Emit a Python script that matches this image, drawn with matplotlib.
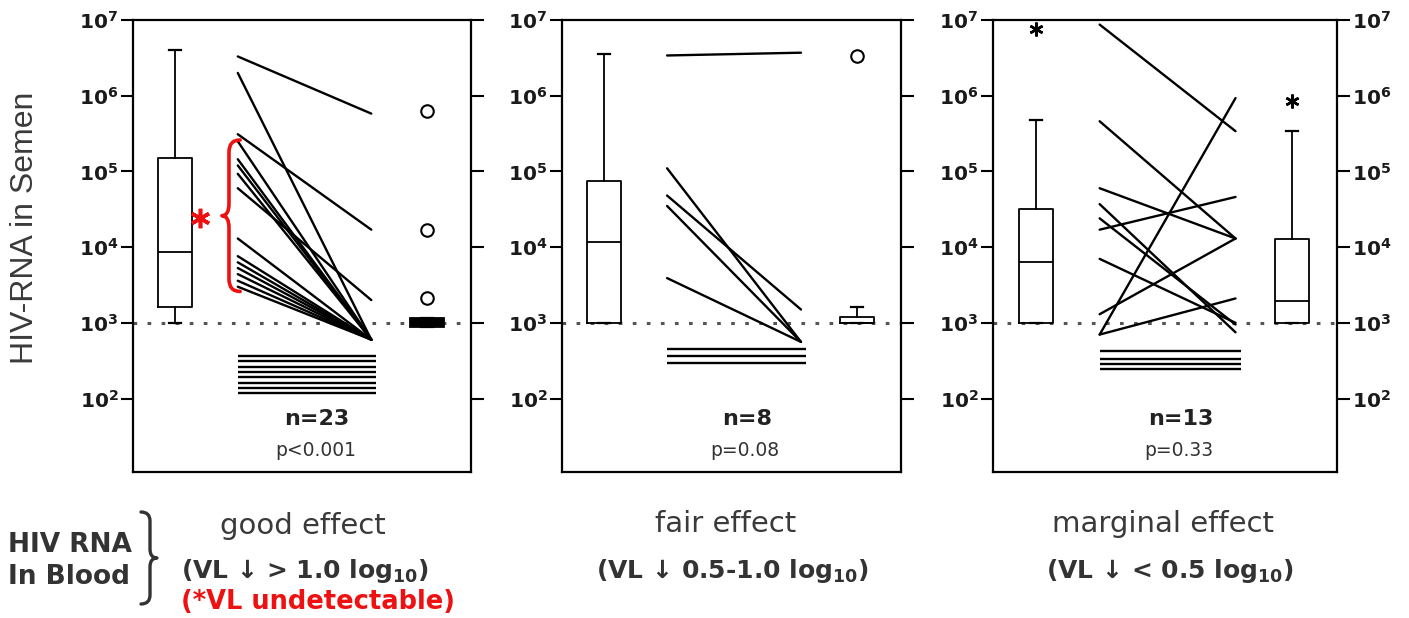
import numpy as np
import matplotlib
matplotlib.use("Agg")
import matplotlib.pyplot as plt
from matplotlib.path import Path
from matplotlib.patches import PathPatch
from matplotlib.ticker import FixedLocator, FuncFormatter, NullLocator

plt.rcParams['font.family'] = ['DejaVu Sans']
plt.rcParams['mathtext.fontset'] = 'dejavusans'

# ---- data: semen HIV-RNA (copies/mL), paired before -> after, per blood response group ----
good_before = [3.3e6, 2.0e6, 3.1e5, 2.5e5, 1.45e5, 1.2e5, 9.3e4, 6.0e4,
               1.3e4, 7.6e3, 6.3e3, 5.3e3, 4.4e3, 3.6e3, 3.0e3]
good_after = [5.8e5, 600, 1.7e4, 600, 600, 600, 600, 2.0e3,
              600, 600, 600, 600, 600, 600, 600]
good_undetectable = [365, 310, 265, 225, 190, 160, 138, 117]

fair_before = [3.4e6, 1.1e5, 4.8e4, 3.5e4, 3.9e3]
fair_after = [3.7e6, 560, 1.5e3, 560, 560]
fair_undetectable = [455, 365, 295]

marginal_before = [8.7e6, 4.6e5, 6.0e4, 3.7e4, 2.4e4, 1.7e4, 7.0e3, 1.3e3, 700, 700]
marginal_after = [3.4e5, 1.3e4, 1.3e4, 750, 950, 4.6e4, 1.0e3, 1.3e4, 9.3e5, 2.1e3]
marginal_undetectable = [425, 335, 285, 245]

# box summaries (whislo, q1, median, q3, whishi, outliers)
good_box_before = dict(whislo=1e3, q1=1.6e3, med=8.7e3, q3=1.5e5, whishi=4.0e6, fliers=[])
good_box_after = dict(whislo=870, q1=870, med=1e3, q3=1.15e3, whishi=1.15e3, fliers=[6.3e5, 1.7e4, 2.1e3])
fair_box_before = dict(whislo=1e3, q1=1e3, med=1.17e4, q3=7.5e4, whishi=3.6e6, fliers=[])
fair_box_after = dict(whislo=1e3, q1=1e3, med=1e3, q3=1.2e3, whishi=1.6e3, fliers=[3.3e6])
marginal_box_before = dict(whislo=1e3, q1=1e3, med=6.3e3, q3=3.2e4, whishi=4.8e5, fliers=[7.5e6])
marginal_box_after = dict(whislo=1e3, q1=1e3, med=1.95e3, q3=1.3e4, whishi=3.4e5, fliers=[8.5e5])

detection_limit = 1e3
group_names = ['good effect', 'fair effect', 'marginal effect']
group_criteria = ['(VL \u2193 > 1.0 log$_{\\mathbf{10}}$)',
                  '(VL \u2193 0.5-1.0 log$_{\\mathbf{10}}$)',
                  '(VL \u2193 < 0.5 log$_{\\mathbf{10}}$)']
n_labels = ['n=23', 'n=8', 'n=13']
p_labels = ['p<0.001', 'p=0.08', 'p=0.33']
decades = [2, 3, 4, 5, 6, 7]

W, H = 1409, 618
fig = plt.figure(figsize=(W / 100, H / 100), dpi=100)


def px(x, y):
    return x / W, 1 - y / H


panel_rects = [(133, 471), (562, 901), (993, 1337)]
top_px, bot_px = 20, 472

X_BOX, X_PRE, X_POST, X_POST_BOX = 1.25, 3.1, 7.05, 8.7


def add_box(ax, stats, pos, filled=False, flier_marker='o'):
    st = dict(stats)
    if flier_marker == 'o':
        fp = dict(marker='o', markerfacecolor='none', markeredgecolor='k',
                  markersize=9, markeredgewidth=1.5, linestyle='none')
    else:
        fp = dict(marker=(6, 2, 0), markeredgecolor='k', markersize=10,
                  markeredgewidth=1.8, linestyle='none')
    ax.bxp([st], positions=[pos], widths=1.0, capwidths=0.35, showfliers=True,
           patch_artist=filled, manage_ticks=False,
           boxprops=dict(facecolor='k', edgecolor='k', linewidth=1.3) if filled
           else dict(color='k', linewidth=1.3),
           whiskerprops=dict(color='k', linewidth=1.3),
           capprops=dict(color='k', linewidth=1.6),
           medianprops=dict(color='k', linewidth=1.3),
           flierprops=fp, zorder=3)


def make_panel(i, before, after, undetect, box_b, box_a, filled_after=False,
               flier_b='o', flier_a='o'):
    l, r = panel_rects[i]
    x0, y0 = px(l, bot_px)
    x1, y1 = px(r, top_px)
    ax = fig.add_axes([x0, y0, x1 - x0, y1 - y0])
    ax.set_yscale('log')

    ax.axhline(detection_limit, color='#555555', linewidth=2.2,
               linestyle=(0, (1.2, 3.4)), zorder=1)

    for b, a in zip(before, after):
        ax.plot([X_PRE, X_POST], [b, a], color='k', linewidth=1.7,
                solid_capstyle='round', zorder=2)
    ax.hlines(undetect, X_PRE, X_POST + 0.15, color='k', linewidth=1.7, zorder=2)

    add_box(ax, box_b, X_BOX, flier_marker=flier_b)
    add_box(ax, box_a, X_POST_BOX, filled=filled_after, flier_marker=flier_a)

    ax.set_xlim(0, 10)
    ax.set_ylim(10 ** 1.03, 1e7)
    ax.yaxis.set_major_locator(FixedLocator([10.0 ** d for d in decades]))
    ax.yaxis.set_minor_locator(NullLocator())
    ax.yaxis.set_major_formatter(FuncFormatter(
        lambda v, p: r'$\mathbf{10^{%d}}$' % round(np.log10(v))))
    ax.set_xticks([])
    ax.tick_params(axis='y', which='major', direction='out', length=9, width=1.5,
                   left=True, right=True, labelleft=True, labelright=(i == 2),
                   labelsize=14.5, labelcolor='#1a1a1a', pad=1.5)
    for s in ax.spines.values():
        s.set_linewidth(1.6)

    ax.text(0.545, 0.118, n_labels[i], transform=ax.transAxes, ha='center',
            va='center', fontsize=16, fontweight='bold', color='#222222')
    ax.text(0.54, 0.048, p_labels[i], transform=ax.transAxes, ha='center',
            va='center', fontsize=13.5, color='#333333')
    return ax


ax1 = make_panel(0, good_before, good_after, good_undetectable,
                 good_box_before, good_box_after, filled_after=True)
ax2 = make_panel(1, fair_before, fair_after, fair_undetectable,
                 fair_box_before, fair_box_after)
ax3 = make_panel(2, marginal_before, marginal_after, marginal_undetectable,
                 marginal_box_before, marginal_box_after, flier_b='*', flier_a='*')

# red brace marking the pairs whose blood viral load became undetectable
red = '#ee1111'
ytop, ymid, ybot = 2.6e5, 2.6e4, 2.6e3
xs, xt, xe = 2.84, 2.63, 3.17
k = 10 ** 0.16
verts = [(xe, ytop), (xs, ytop), (xs, ytop / k), (xs, ymid * k),
         (xs, ymid), (xt, ymid), (xs, ymid), (xs, ymid / k),
         (xs, ybot * k), (xs, ybot), (xe, ybot)]
codes = [Path.MOVETO, Path.CURVE3, Path.CURVE3, Path.LINETO,
         Path.CURVE3, Path.CURVE3, Path.CURVE3, Path.CURVE3,
         Path.LINETO, Path.CURVE3, Path.CURVE3]
ax1.add_patch(PathPatch(Path(verts, codes), facecolor='none', edgecolor=red,
                        linewidth=2.6, capstyle='round', joinstyle='round',
                        transform=ax1.transData, zorder=4))
ax1.plot([1.98], [10 ** 4.39], marker=(6, 2, 0), markersize=14,
         markeredgewidth=2.6, color=red, linestyle='none', zorder=4)

# y-axis title
fig.text(*px(25, 228), 'HIV-RNA in Semen', rotation=90, ha='center', va='center',
         fontsize=23, color='#3a3a3a', family='Liberation Sans')

# group captions under each panel
name_pos = [(303, 534), (726, 532), (1163, 532)]
crit_pos = [(305, 578), (732, 578), (1170, 578)]
for i in range(3):
    fig.text(*px(*name_pos[i]), group_names[i], ha='center', va='baseline',
             fontsize=21, color='#3a3a3a')
    fig.text(*px(*crit_pos[i]), group_criteria[i], ha='center', va='baseline',
             fontsize=18, fontweight='bold', color='#333333')
fig.text(*px(318, 609), '(*VL undetectable)', ha='center', va='baseline',
         fontsize=18.5, fontweight='bold', color=red)

fig.text(*px(8, 552), 'HIV RNA', ha='left', va='baseline', fontsize=19,
         fontweight='bold', color='#333333')
fig.text(*px(8, 584), 'In Blood', ha='left', va='baseline', fontsize=19,
         fontweight='bold', color='#333333')

# right-hand brace grouping the blood label
bx, btip, bend = 150, 157, 141
b_top, b_mid, b_bot = 512, 558, 604
r = 9
bverts = [(bend, b_top), (bx, b_top), (bx, b_top + r), (bx, b_mid - r),
          (bx, b_mid), (btip, b_mid), (bx, b_mid), (bx, b_mid + r),
          (bx, b_bot - r), (bx, b_bot), (bend, b_bot)]
bverts = [px(x, y) for x, y in bverts]
fig.add_artist(PathPatch(Path(bverts, codes), facecolor='none', edgecolor='#333333',
                         linewidth=2.4, capstyle='round', joinstyle='round',
                         transform=fig.transFigure))

fig.savefig('out.png', dpi=100)
